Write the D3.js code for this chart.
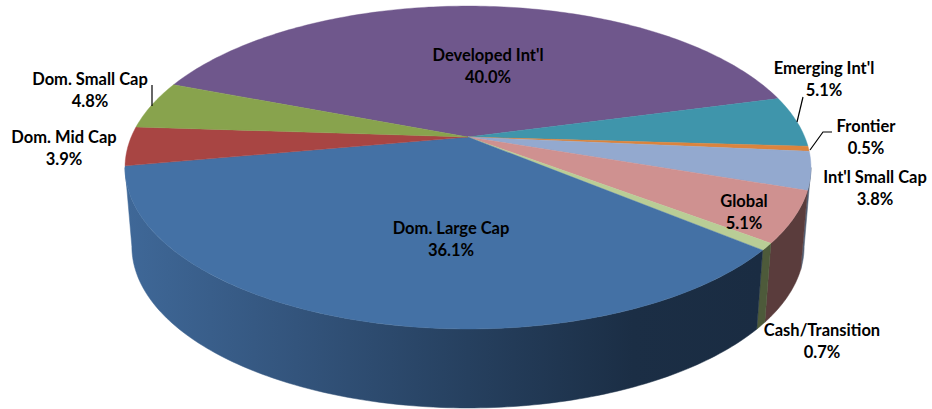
<!DOCTYPE html>
<html>
<head>
<meta charset="utf-8">
<script src="https://cdn.jsdelivr.net/npm/d3@7"></script>
<style>
  body { margin: 0; background: #fff; }
  svg { display: block; }
  text { font-family: Lato, "Open Sans", sans-serif; font-weight: 700; font-size: 16.5px; fill: #000; }
</style>
</head>
<body>
<svg class="piechart" width="932" height="409"></svg>
<script>
const categories = ["Developed Int'l", "Emerging Int'l", "Frontier", "Int'l Small Cap", "Global", "Cash/Transition", "Dom. Large Cap", "Dom. Mid Cap", "Dom. Small Cap"];
const shares = [40.0, 5.1, 0.5, 3.8, 5.1, 0.7, 36.1, 3.9, 4.8];

// layout only, same order as categories
const topColours = ["#6f578c", "#3f95ab", "#db843d", "#93a9cf", "#cf9190", "#b9cd96", "#4471a5", "#a84543", "#88a34d"];
const sideColours = ["#3f3150", "#24545f", "#7a4a22", "#525f74", "#5a3c3c", "#4d5a3a", "#1a2e47", "#5f2725", "#4d5c2b"];
const labelPos = [[488, 61], [824, 74], [866, 132], [875, 183], [744, 207], [822, 336], [451, 234], [64, 143], [90, 85]];
const leaders = [
  [[797, 122], [803, 97]],
  [[810, 150], [823, 132], [832, 132]],
  [[152, 106], [152, 85]]
];

const svg = d3.select("svg.piechart");
const cx = 468, cy = 137;          // where the slices meet
const a = 336.8, b = 155.7, p = 0.189; // perspective of the disc
const depth = 79, bottomShrink = 0.98;

function project(angle, r, lower) {
  const u = Math.sin(angle) * r, v = -Math.cos(angle) * r;
  const w = 1 - p * v;
  return [cx + a * u / w * (lower ? bottomShrink : 1), cy + b * v / w + (lower ? depth : 0)];
}

const pie = d3.pie().sort(null).value(d => d)
  .startAngle(-69 * Math.PI / 180)
  .endAngle((360 - 69) * Math.PI / 180);
const slices = pie(shares);
const line = d3.line();

function rim(start, end, lower) {
  const n = Math.max(2, Math.ceil((end - start) * 60));
  return d3.range(n + 1).map(i => project(start + (end - start) * i / n, 1, lower));
}

const defs = svg.append("defs");
const grad = defs.append("linearGradient").attr("id", "sideBlue")
  .attr("gradientUnits", "userSpaceOnUse")
  .attr("x1", 125).attr("x2", 760).attr("y1", 0).attr("y2", 0);
grad.append("stop").attr("offset", "0%").attr("stop-color", "#3f6898");
grad.append("stop").attr("offset", "27%").attr("stop-color", "#33547c");
grad.append("stop").attr("offset", "54%").attr("stop-color", "#26405f");
grad.append("stop").attr("offset", "80%").attr("stop-color", "#1b2e45");
grad.append("stop").attr("offset", "100%").attr("stop-color", "#1a2c42");

// outer wall, only the front part can be seen
const frontFrom = Math.PI / 2 + Math.asin(p), frontTo = 3 * Math.PI / 2 - Math.asin(p);
slices.forEach(function(s, i) {
  const start = Math.max(s.startAngle, frontFrom);
  const end = Math.min(s.endAngle, frontTo);
  if (end <= start) return;
  const wall = rim(start, end, false).concat(rim(start, end, true).reverse());
  const isBlue = categories[i] === "Dom. Large Cap";
  svg.append("path")
    .attr("d", line(wall) + "Z")
    .attr("fill", isBlue ? "url(#sideBlue)" : sideColours[i])
    .attr("stroke", isBlue ? "url(#sideBlue)" : sideColours[i])
    .attr("stroke-width", 0.5);
});

// top of the disc
slices.forEach(function(s, i) {
  const pts = [project(0, 0, false)].concat(rim(s.startAngle, s.endAngle, false));
  svg.append("path")
    .attr("d", line(pts) + "Z")
    .attr("fill", topColours[i])
    .attr("stroke", topColours[i])
    .attr("stroke-width", 0.4);
});

leaders.forEach(function(pts) {
  svg.append("path").attr("d", line(pts))
    .attr("fill", "none").attr("stroke", "#000").attr("stroke-width", 1.2);
});

categories.forEach(function(c, i) {
  const t = svg.append("text").attr("text-anchor", "middle")
    .attr("transform", "translate(" + labelPos[i][0] + "," + labelPos[i][1] + ")");
  t.append("tspan").attr("x", 0).attr("y", 0).text(c);
  t.append("tspan").attr("x", 0).attr("y", 22).text(d3.format(".1f")(shares[i]) + "%");
});
</script>
</body>
</html>
